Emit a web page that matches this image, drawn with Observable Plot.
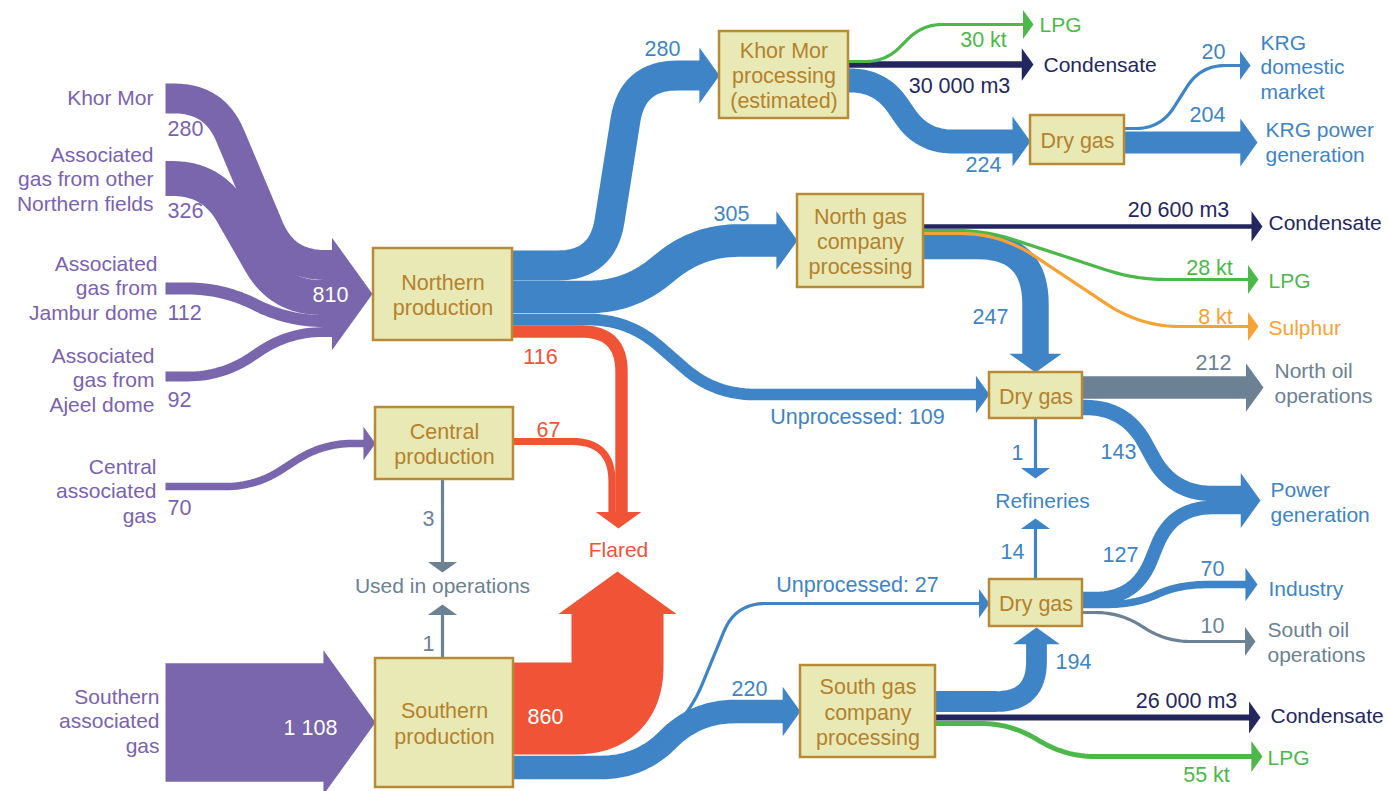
<!DOCTYPE html>
<html><head><meta charset="utf-8">
<script src="https://cdn.jsdelivr.net/npm/d3@7"></script>
<script src="https://cdn.jsdelivr.net/npm/@observablehq/plot@0.6"></script>
<style>html,body{margin:0;padding:0;background:#fff}#chart svg{display:block}</style>
</head><body><div id="chart"></div>
<script>
// ================= DATA =================
const flowIds = ["khorMor","otherNorth","jambur","ajeel","centralIn","southernIn",
  "northFlare","centralFlare","southFlare",
  "toKhorMorProc","toNorthGasProc","unprocessedNorth","khorMorDry","krgDomestic","krgPower",
  "northDry","northRefineries","northPower","southPower","southRefineries","industry",
  "toSouthGasProc","unprocessedSouth","southDry",
  "northOil","southOil","centralUsed","southernUsed",
  "khorMorCond","northCond","southCond","khorMorLpg","northLpg","southLpg","northSulphur"];
const flowValues = [280,326,112,92,70,1108,
  116,67,860,
  280,305,109,224,20,204,
  247,1,143,127,14,70,
  220,27,194,
  212,10,3,1,
  30000,20600,26000,30,28,55,8];
const flowUnits = ["gas","gas","gas","gas","gas","gas","gas","gas","gas",
  "gas","gas","gas","gas","gas","gas","gas","gas","gas","gas","gas","gas",
  "gas","gas","gas","gas","gas","gas","gas",
  "m3","m3","m3","kt","kt","kt","kt"];
const flowKinds = ["feed","feed","feed","feed","feed","feed",
  "flared","flared","flared",
  "gas","gas","gas","gas","gas","gas","gas","gas","gas","gas","gas","gas","gas","gas","gas",
  "ops","ops","ops","ops",
  "condensate","condensate","condensate","lpg","lpg","lpg","sulphur"];
const flowPrefixes = {unprocessedNorth: "Unprocessed: ", unprocessedSouth: "Unprocessed: "};
const mergedTotals = ["northern"]; // merged arrows whose total is labelled

const sourceNames = ["Khor Mor","Associated\ngas from other\nNorthern fields","Associated\ngas from\nJambur dome",
  "Associated\ngas from\nAjeel dome","Central\nassociated\ngas","Southern\nassociated\ngas"];
const boxNames = ["Northern\nproduction","Central\nproduction","Southern\nproduction",
  "Khor Mor\nprocessing\n(estimated)","North gas\ncompany\nprocessing","South gas\ncompany\nprocessing",
  "Dry gas","Dry gas","Dry gas"];
const sinkNames = ["LPG","Condensate","KRG\ndomestic\nmarket","KRG power\ngeneration","Condensate","LPG","Sulphur",
  "North oil\noperations","Refineries","Power\ngeneration","Industry","South oil\noperations",
  "Condensate","LPG","Flared","Used in operations"];
const sinkKinds = ["lpg","condensate","gas","gas","condensate","lpg","sulphur",
  "ops","gas","gas","gas","ops","condensate","lpg","flared","ops"];

// ================= LAYOUT & STYLE =================
const W = 1389, H = 791;
const unitScale = {gas: 0.107, m3: 1/4500, kt: 0.09};
const minWidth = 3.2;
const kindColor = {feed:"#7a66ad", flared:"#f05336", gas:"#3e84c6", ops:"#6c8194",
  condensate:"#24275f", lpg:"#4cb84a", sulphur:"#f7a234"};
const textColor = {...kindColor, feed:"#7a62b0", box:"#b3822c", white:"#ffffff"};

const routes = {
  khorMor:        {pts:[[165,98],[214,98],[284,264.5],[372,264.5]], r:40, head:"northern"},
  otherNorth:     {pts:[[165,178],[212,178],[280,297],[372,297]], r:40, head:"northern"},
  jambur:         {pts:[[165,288],[222,288],[288,320.5],[372,320.5]], r:35, head:"northern"},
  ajeel:          {pts:[[165,376],[222,376],[288,331.5],[372,331.5]], r:35, head:"northern"},
  centralIn:      {pts:[[165,486],[255,486],[322,443],[375,443]], r:30, head:true},
  southernIn:     {pts:[[165,722],[375,722]], r:0, head:true},
  northFlare:     {pts:[[512,331],[621,331],[621,528]], r:40, head:"flare"},
  centralFlare:   {pts:[[513,441],[611.5,441],[611.5,528]], r:40, head:"flare"},
  southFlare:     {pts:[[513,708],[617,708],[617,571]], r:42, head:true},
  toKhorMorProc:  {pts:[[512,265],[602,265],[632,75],[719,75]], r:45, head:true},
  toNorthGasProc: {pts:[[512,296.5],[628,296.5],[698,240],[797,240]], r:40, head:true},
  unprocessedNorth:{pts:[[512,319],[628,319],[714,394],[989,394]], r:40, head:true},
  khorMorDry:     {pts:[[848,80],[880,80],[922,141],[1030,141]], r:30, head:true},
  krgDomestic:    {pts:[[1124,128],[1160,128],[1200,65],[1250,65]], r:25, head:true},
  krgPower:       {pts:[[1124,142],[1257,142]], r:0, head:true},
  northDry:       {pts:[[923,245.5],[1035,245.5],[1035,372]], r:58, head:true},
  northRefineries:{pts:[[1035,418],[1035,478]], r:0, head:true},
  northPower:     {pts:[[1082,407],[1125,407],[1172,493],[1260,493]], r:40, head:"power"},
  southPower:     {pts:[[1082,598],[1135,598],[1172,507],[1260,507]], r:40, head:"power"},
  southRefineries:{pts:[[1035,579],[1035,518]], r:0, head:true},
  industry:       {pts:[[1082,604],[1135,604],[1178,584],[1257,584]], r:30, head:true},
  toSouthGasProc: {pts:[[513,767],[640,767],[695,711],[800,711]], r:40, head:true},
  unprocessedSouth:{pts:[[513,757],[640,757],[690,712],[735,603],[989,603]], r:30, head:true},
  southDry:       {pts:[[935,701],[1036,701],[1036,627]], r:40, head:true},
  northOil:       {pts:[[1082,387],[1263,387]], r:0, head:true},
  southOil:       {pts:[[1082,612],[1120,612],[1165,641],[1255,641]], r:25, head:true},
  centralUsed:    {pts:[[442,479],[442,572]], r:0, head:true},
  southernUsed:   {pts:[[442,658],[442,604]], r:0, head:true},
  khorMorCond:    {pts:[[848,64],[1033,64]], r:0, head:true},
  northCond:      {pts:[[923,226],[1262,226]], r:0, head:true},
  southCond:      {pts:[[935,717],[1260,717]], r:0, head:true},
  khorMorLpg:     {pts:[[848,61],[885,61],[922,24],[1033,24]], r:20, head:true},
  northLpg:       {pts:[[923,230],[985,230],[1135,279],[1258,279]], r:30, head:true},
  southLpg:       {pts:[[935,723],[1010,723],[1065,756],[1262,756]], r:30, head:true},
  northSulphur:   {pts:[[923,233],[1000,233],[1140,326],[1258,326]], r:40, head:true}
};
const mergedHeads = {
  northern: {tip:[372,293.5], dir:[1,0]},
  flare:    {tip:[618,528], dir:[0,1]},
  power:    {tip:[1260,500], dir:[1,0]}
};
const valuePos = {
  khorMor:[167,127,"start"], otherNorth:[167,209,"start"], jambur:[167,311,"start"], ajeel:[167,398,"start"],
  centralIn:[167,506,"start"], southernIn:[310,726,"middle","white"], northern:[330,293,"middle","white"],
  northFlare:[540,355,"middle"], centralFlare:[548,428,"middle"], southFlare:[545,715,"middle","white"],
  toKhorMorProc:[662,47,"middle"], toNorthGasProc:[731,212,"middle"], unprocessedNorth:[857,415,"middle"],
  khorMorDry:[983,163,"middle"], krgDomestic:[1213,50,"middle"], krgPower:[1207,113,"middle"],
  northDry:[990,315,"middle"], northRefineries:[1017,451,"middle"], northPower:[1118,450,"middle"],
  southPower:[1120,553,"middle"], southRefineries:[1012,550,"middle"], industry:[1212,567,"middle"],
  toSouthGasProc:[749,687,"middle"], unprocessedSouth:[857,583,"middle"], southDry:[1073,660,"middle"],
  northOil:[1213,361,"middle"], southOil:[1212,624,"middle"], centralUsed:[428,517,"middle"], southernUsed:[428,642,"middle"],
  khorMorCond:[959,84,"middle"], northCond:[1178,208,"middle"], southCond:[1186,699,"middle"],
  khorMorLpg:[983,38,"middle"], northLpg:[1209,266,"middle"], southLpg:[1206,773,"middle"], northSulphur:[1215,315,"middle"]
};
const sourcePos = [[153,97],[153,178],[157,287],[154,379],[156,490],[159,720]];
const boxPos = [[373,248,512,340],[375,407,513,479],[375,658,513,787],[719,31,848,118],
  [797,194,923,287],[800,665,935,757],[1030,115,1124,164],[989,372,1082,418],[989,579,1082,626]];
const sinkPos = [[1039,24,"start"],[1043,64,"start"],[1260,66,"start"],[1265,141,"start"],[1268,222,"start"],
  [1268,280,"start"],[1268,327,"start"],[1274,382,"start"],[1042,500,"middle"],[1270,501,"start"],
  [1268,588,"start"],[1267,641,"start"],[1270,715,"start"],[1267,757,"start"],[618,549,"middle"],[442,585,"middle"]];

// ================= BUILD =================
const fmt = d3.formatLocale({decimal:".", thousands:" ", grouping:[3], currency:["",""]}).format(",d");
const unitSuffix = {gas:"", m3:" m3", kt:" kt"};
const widthOf = i => Math.max(minWidth, flowValues[i] * unitScale[flowUnits[i]]);
const headSize = w => { const s = w + 26; return {half: s/2, len: Math.max(10, s*0.36)}; };

function roundPath(pts, r) {
  const out = [pts[0]], n = pts.length;
  for (let i = 1; i < n - 1; i++) {
    const [x0,y0] = pts[i-1], [x1,y1] = pts[i], [x2,y2] = pts[i+1];
    const l1 = Math.hypot(x1-x0, y1-y0), l2 = Math.hypot(x2-x1, y2-y1);
    const r1 = Math.min(r, i === 1 ? l1 : l1/2), r2 = Math.min(r, i === n-2 ? l2 : l2/2);
    const a = [x1-(x1-x0)/l1*r1, y1-(y1-y0)/l1*r1], b = [x1+(x2-x1)/l2*r2, y1+(y2-y1)/l2*r2];
    for (let k = 0; k <= 16; k++) {
      const t = k/16, u = 1-t;
      out.push([u*u*a[0]+2*u*t*x1+t*t*b[0], u*u*a[1]+2*u*t*y1+t*t*b[1]]);
    }
  }
  out.push(pts[n-1]);
  return out;
}

// merged head widths
const groupW = {}, groupKind = {}, groupVal = {};
flowIds.forEach((id, i) => {
  const h = routes[id].head;
  if (typeof h === "string") {
    groupW[h] = (groupW[h] || 0) + widthOf(i);
    groupVal[h] = (groupVal[h] || 0) + flowValues[i];
    groupKind[h] = flowKinds[i];
  }
});

const ribbonPts = [], headPts = [];
function addHead(id, tip, d, w, color) {
  const {half, len} = headSize(w);
  const bx = tip[0]-d[0]*len, by = tip[1]-d[1]*len, nx = -d[1], ny = d[0];
  [[bx+nx*half, by+ny*half], tip, [bx-nx*half, by-ny*half]]
    .forEach(([x,y]) => headPts.push({id, x, y, color}));
}
flowIds.forEach((id, i) => {
  const R = routes[id], w = widthOf(i), color = kindColor[flowKinds[i]];
  const pts = R.pts.map(p => p.slice());
  const n = pts.length;
  if (R.head) {
    const [px,py] = pts[n-2], [qx,qy] = pts[n-1];
    const L = Math.hypot(qx-px, qy-py), d = [(qx-px)/L, (qy-py)/L];
    const len = typeof R.head === "string" ? headSize(groupW[R.head]).len : headSize(w).len;
    pts[n-1] = [qx - d[0]*(len-1), qy - d[1]*(len-1)];
    if (R.head === true) addHead(id, [qx,qy], d, w, color);
  }
  roundPath(pts, R.r).forEach(([x,y]) => ribbonPts.push({id, x, y, w, color}));
});
Object.entries(mergedHeads).forEach(([g, H0]) =>
  addHead("head-"+g, H0.tip, H0.dir, groupW[g], kindColor[groupKind[g]]));

const boxes = boxPos.map(([x1,y1,x2,y2], i) => ({x1,y1,x2,y2, name: boxNames[i]}));
const labels = [];
sourceNames.forEach((t, i) => labels.push({x: sourcePos[i][0], y: sourcePos[i][1], text: t, anchor:"end", color: textColor.feed, size: 21}));
boxes.forEach(b => labels.push({x:(b.x1+b.x2)/2, y:(b.y1+b.y2)/2, text: b.name, anchor:"middle", color: textColor.box, size: 21.5}));
sinkNames.forEach((t, i) => labels.push({x: sinkPos[i][0], y: sinkPos[i][1], text: t, anchor: sinkPos[i][2], color: textColor[sinkKinds[i]], size: 21}));
flowIds.forEach((id, i) => {
  const p = valuePos[id]; if (!p) return;
  labels.push({x:p[0], y:p[1], anchor:p[2], size: 21.5,
    text: (flowPrefixes[id] || "") + fmt(flowValues[i]) + unitSuffix[flowUnits[i]],
    color: p[3] ? textColor[p[3]] : textColor[flowKinds[i]]});
});
mergedTotals.forEach(g => {
  const p = valuePos[g];
  labels.push({x:p[0], y:p[1], anchor:p[2], size:21.5, text: fmt(groupVal[g]), color: textColor[p[3]]});
});

const textMark = anchor => Plot.text(labels.filter(d => d.anchor === anchor), {
  x:"x", y:"y", text:"text", fill:"color", fontSize:"size", textAnchor: anchor, lineHeight: 1.18, lineAnchor:"middle"});

const chart = Plot.plot({
  width: W, height: H, margin: 0,
  x: {domain:[0,W], range:[0,W], axis:null},
  y: {domain:[0,H], range:[0,H], axis:null},
  color: {type:"identity"},
  style: {fontFamily: "'Liberation Sans', Arial, sans-serif", background:"#ffffff", overflow:"visible"},
  marks: [
    Plot.line(ribbonPts, {x:"x", y:"y", z:"id", stroke:"color", strokeWidth:"w",
      strokeLinecap:"butt", strokeLinejoin:"round", curve:"linear"}),
    Plot.line(headPts, {x:"x", y:"y", z:"id", fill:"color", stroke:"none", curve:"linear-closed"}),
    Plot.rect(boxes, {x1:"x1", y1:"y1", x2:"x2", y2:"y2", fill:"#e9e9b6", stroke:"#b88a35", strokeWidth:2.5}),
    textMark("start"), textMark("middle"), textMark("end")
  ]
});
document.getElementById("chart").appendChild(chart);
</script>
</body></html>
